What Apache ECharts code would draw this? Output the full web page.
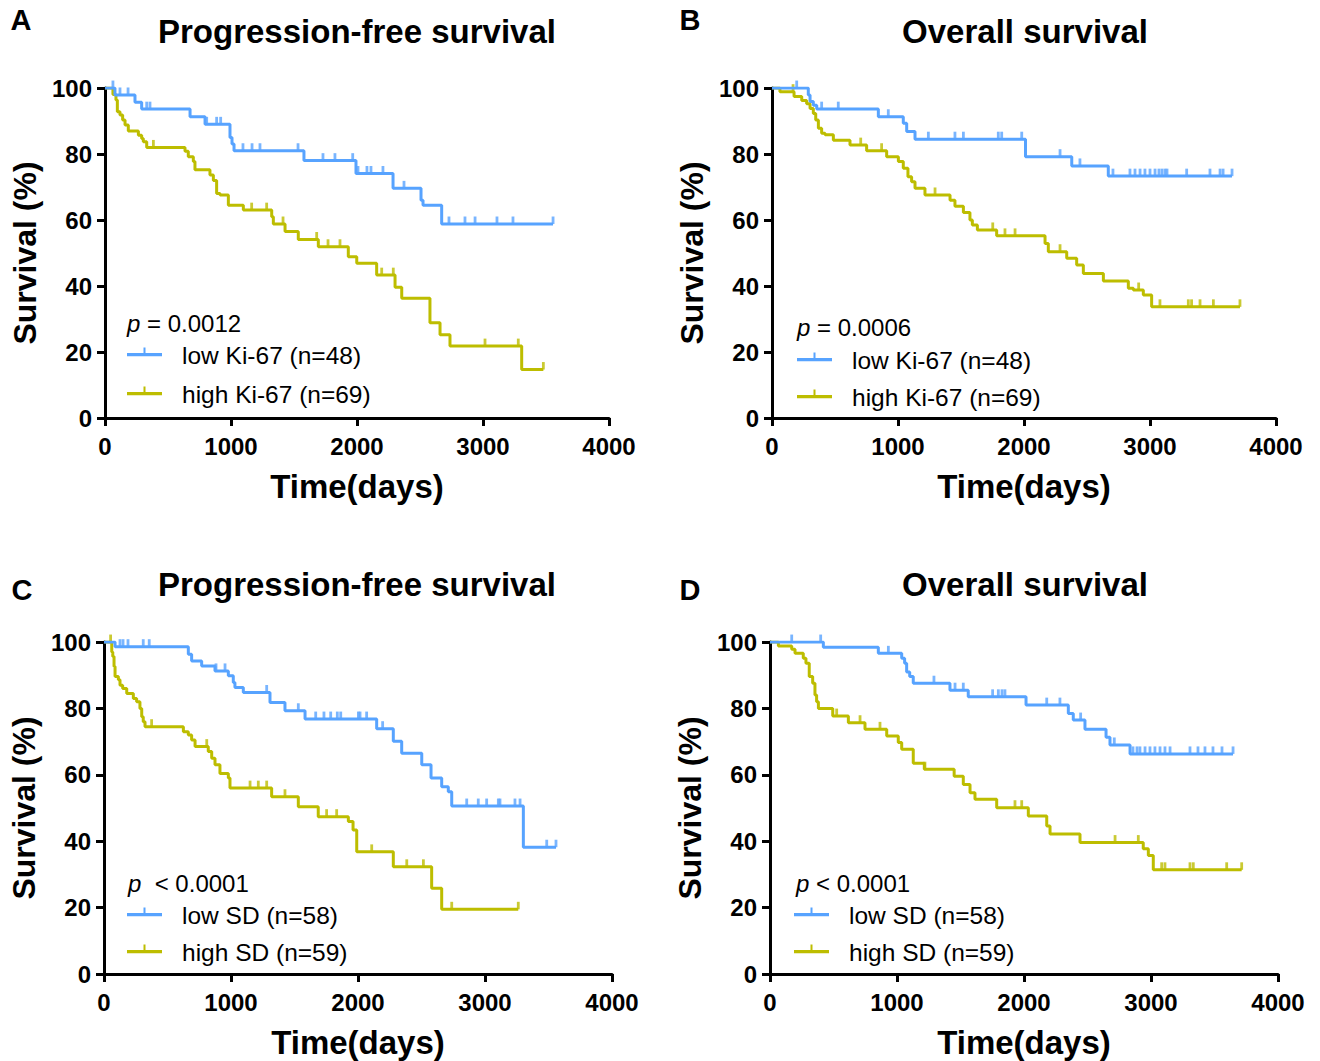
<!DOCTYPE html>
<html><head><meta charset="utf-8">
<style>html,body{margin:0;padding:0;background:#fff}#c{width:1320px;height:1061px}</style>
<script src="https://cdn.jsdelivr.net/npm/echarts@6/dist/echarts.min.js"></script>
</head><body><div id="c"></div>
<script>
// ---------- DATA ----------
// Panel A: Progression-free survival by Ki-67
const aLowT  = [79, 238, 291, 675, 794, 992, 1008, 1024, 1579, 1992, 2286, 2508, 2524, 2672];
const aLowS  = [97.9, 95.7, 93.6, 91.3, 89.0, 85.0, 83.0, 81.0, 78.0, 74.1, 69.6, 66.0, 64.5, 58.8];
const aLowC  = [63, 119, 183, 331, 357, 807, 886, 918, 1095, 1167, 1230, 1532, 1730, 1825, 1966, 2008, 2079, 2111, 2206, 2373, 2730, 2857, 2937, 3111, 3238, 3556];
const aHighT = [63, 87, 98, 119, 140, 159, 185, 265, 291, 304, 331, 635, 661, 701, 714, 833, 860, 886, 913, 979, 1098, 1323, 1336, 1429, 1534, 1693, 1931, 1998, 2156, 2302, 2355, 2579, 2659, 2738, 3307];
const aHighS = [98, 96.4, 92.8, 91.8, 90.3, 88.8, 87, 85.7, 84.7, 83.7, 82, 80.8, 79.2, 77.7, 75.2, 73.6, 72, 68, 67.6, 64.5, 63, 61, 58.8, 56.5, 54.1, 51.9, 48.9, 46.9, 43.3, 39.6, 36.3, 28.9, 25.2, 21.8, 14.7];
const aHighC = [384, 1164, 1283, 1413, 1680, 1770, 1865, 2196, 2288, 3016, 3280, 3479];
// Panel B: Overall survival by Ki-67
const bLowT  = [288, 302, 328, 355, 844, 1042, 1069, 1135, 2012, 2379, 2669];
const bLowS  = [97.9, 95.9, 94.8, 93.6, 91.3, 89.3, 86.8, 84.5, 79.2, 76.4, 73.3];
const bLowC  = [196, 394, 526, 923, 1241, 1452, 1519, 1796, 1823, 1982, 2286, 2444, 2706, 2841, 2881, 2921, 2960, 3000, 3040, 3071, 3095, 3119, 3135, 3291, 3476, 3556, 3580, 3651];
const bHighT = [63, 175, 236, 275, 302, 328, 347, 368, 394, 421, 487, 619, 751, 910, 1003, 1042, 1079, 1108, 1135, 1214, 1413, 1452, 1519, 1571, 1590, 1630, 1783, 2167, 2193, 2339, 2418, 2471, 2630, 2828, 2868, 2947, 3013];
const bHighS = [98.9, 97.4, 96.2, 95.2, 93.8, 92.3, 90.3, 87.8, 86.3, 85.8, 84.2, 82.7, 81, 79.2, 77.7, 75.7, 73.1, 71.6, 69.6, 67.6, 66, 64.2, 62.3, 60, 58.5, 57, 55.2, 52.9, 50.4, 48.4, 46.4, 43.8, 41.5, 39.3, 38.8, 37.3, 33.7];
const bHighC = [167, 704, 870, 1294, 1752, 1849, 1929, 2286, 2910, 3079, 3304, 3330, 3397, 3503, 3714];
// Panel C: Progression-free survival by SD
const cLowT  = [87, 664, 690, 769, 874, 979, 1018, 1031, 1097, 1307, 1425, 1583, 2147, 2278, 2344, 2502, 2575, 2659, 2711, 2738, 3302];
const cLowS  = [98.6, 96.3, 94.3, 92.8, 91.3, 89.8, 87.8, 86.3, 84.8, 81.8, 79.3, 76.8, 73.9, 70.1, 66.5, 63, 59, 56.4, 54.9, 50.6, 38.2];
const cLowC  = [126, 150, 189, 309, 356, 882, 953, 1281, 1530, 1667, 1732, 1785, 1837, 1864, 2003, 2016, 2068, 2194, 2856, 2947, 3013, 3105, 3118, 3236, 3276, 3486, 3559];
const cHighT = [61, 69, 79, 87, 113, 126, 147, 179, 231, 257, 283, 297, 309, 323, 625, 664, 690, 717, 821, 848, 874, 913, 979, 992, 1320, 1530, 1687, 1924, 1961, 1990, 2278, 2580, 2659];
const cHighS = [97, 95.6, 92.6, 89.6, 88.6, 87, 86, 84.5, 83, 82, 80, 77.5, 76, 74.5, 73, 72, 70.5, 68.5, 67, 65, 63, 60.4, 59, 56, 53.4, 50.4, 47.4, 45.9, 43.4, 36.8, 32.3, 25.8, 19.5];
const cHighC = [52, 375, 809, 1150, 1215, 1281, 1425, 1753, 1832, 2108, 2384, 2515, 2738, 3262];
// Panel D: Overall survival by SD
const dLowT  = [420, 853, 1037, 1060, 1076, 1100, 1128, 1417, 1561, 2016, 2349, 2388, 2480, 2646, 2677, 2835];
const dLowS  = [98.4, 96.6, 95.1, 93.6, 91, 89.6, 87.6, 85.5, 83.5, 81, 78.5, 76.5, 73.7, 71.3, 69, 66.3];
const dLowC  = [171, 399, 932, 1291, 1457, 1522, 1753, 1798, 1827, 1850, 2179, 2283, 2446, 2711, 2858, 2890, 2913, 2953, 2992, 3031, 3071, 3110, 3150, 3307, 3370, 3425, 3488, 3559, 3646];
const dHighT = [66, 171, 197, 262, 283, 309, 336, 354, 367, 381, 494, 617, 748, 919, 1010, 1037, 1128, 1215, 1450, 1522, 1575, 1614, 1785, 2034, 2179, 2205, 2441, 2939, 2979, 3018];
const dHighS = [98.8, 97.8, 96.6, 95.1, 93.6, 89.6, 87.6, 84, 82, 80, 77.7, 75.7, 73.7, 71.7, 69.7, 67.7, 63.5, 61.7, 59.6, 57.1, 54.6, 52.6, 50.1, 47.6, 44.6, 42.2, 39.6, 37.7, 35.7, 31.4];
const dHighC = [525, 709, 866, 1220, 1929, 1982, 2717, 2900, 3084, 3110, 3307, 3333, 3596, 3714];

const panelLetters = ['A', 'B', 'C', 'D'];
const panelTitles  = ['Progression-free survival', 'Overall survival', 'Progression-free survival', 'Overall survival'];
const pValueTexts  = [' = 0.0012', ' = 0.0006', '  < 0.0001', ' < 0.0001'];
const groupNames   = [['low Ki-67 (n=48)', 'high Ki-67 (n=69)'], ['low Ki-67 (n=48)', 'high Ki-67 (n=69)'],
                      ['low SD (n=58)', 'high SD (n=59)'], ['low SD (n=58)', 'high SD (n=59)']];
const xAxisName = 'Time(days)';
const yAxisName = 'Survival (%)';
const xMin = 0, xMax = 4000, xStep = 1000;
const yMin = 0, yMax = 100, yStep = 20;

// ---------- LAYOUT / STYLE ----------
const F = 'Arial, "Liberation Sans", sans-serif';
const COLORS = ['#57A3FF', '#BDBD00'];
const grids = [
  {left: 105, top: 88, width: 504, height: 330},
  {left: 772, top: 88, width: 504, height: 330},
  {left: 104, top: 642, width: 508, height: 332},
  {left: 770, top: 642, width: 508, height: 332}
];
const legendPos = [{left: 127, top: 343}, {left: 797, top: 348}, {left: 127, top: 903}, {left: 794, top: 903}];
const legendGap = [14, 12, 12, 12];
const pPos = [[127, 323], [797, 327], [128, 883], [796, 883]];
const titlePos = [[357, 31], [1025, 31], [357, 584], [1025, 584]];
const letterPos = [[21, 20], [690, 20], [22, 590], [690, 590]];

const panelData = [
  [[aLowT, aLowS, aLowC], [aHighT, aHighS, aHighC]],
  [[bLowT, bLowS, bLowC], [bHighT, bHighS, bHighC]],
  [[cLowT, cLowS, cLowC], [cHighT, cHighS, cHighC]],
  [[dLowT, dLowS, dLowC], [dHighT, dHighS, dHighC]]
];

function survAt(T, S, t) {
  let s = 100;
  for (let i = 0; i < T.length; i++) { if (T[i] <= t) s = S[i]; else break; }
  return s;
}
function curve(T, S, C) {
  const d = [[0, 100]];
  T.forEach((t, i) => d.push([t, S[i]]));
  const end = Math.max(T[T.length - 1], C[C.length - 1]);
  d.push([end, S[S.length - 1]]);
  return d;
}

const axisCommon = {
  axisLine: {show: true, lineStyle: {color: '#000', width: 3}},
  axisTick: {show: true, length: 8, lineStyle: {color: '#000', width: 3}},
  splitLine: {show: false},
  axisLabel: {color: '#000', fontFamily: F, fontWeight: 'bold', fontSize: 24, formatter: v => String(v)},
  nameTextStyle: {color: '#000', fontFamily: F, fontWeight: 'bold', fontSize: 32}
};

const xAxes = [], yAxes = [], series = [], legends = [], graphics = [];
for (let p = 0; p < 4; p++) {
  xAxes.push(Object.assign({}, axisCommon, {
    type: 'value', gridIndex: p, min: xMin, max: xMax, interval: xStep,
    name: xAxisName, nameLocation: 'middle', nameGap: 52,
    nameTextStyle: Object.assign({}, axisCommon.nameTextStyle, {fontSize: 33}),
    axisLabel: Object.assign({}, axisCommon.axisLabel, {margin: 16})
  }));
  yAxes.push(Object.assign({}, axisCommon, {
    type: 'value', gridIndex: p, min: yMin, max: yMax, interval: yStep,
    name: yAxisName, nameLocation: 'middle', nameGap: 64, nameRotate: 90,
    axisLabel: Object.assign({}, axisCommon.axisLabel, {margin: 13})
  }));
  for (let g = 0; g < 2; g++) {
    const [T, S, C] = panelData[p][g];
    series.push({
      type: 'line', name: groupNames[p][g], xAxisIndex: p, yAxisIndex: p,
      data: curve(T, S, C), step: 'end', showSymbol: false, symbol: 'none',
      lineStyle: {color: COLORS[g], width: 3}, itemStyle: {color: COLORS[g], borderWidth: 0},
      z: 3 - g
    });
    series.push({
      type: 'scatter', name: groupNames[p][g] + ' censored', xAxisIndex: p, yAxisIndex: p,
      data: C.map(t => [t, survAt(T, S, t)]),
      symbol: 'rect', symbolSize: [2.8, 7.5], symbolOffset: [0, -3.7],
      itemStyle: {color: COLORS[g]}, silent: true, z: 3 - g
    });
  }
  legends.push({
    orient: 'vertical', left: legendPos[p].left, top: legendPos[p].top, padding: 0,
    data: groupNames[p].slice(), itemWidth: 35, itemHeight: 16, itemGap: legendGap[p],
    icon: 'path://M0,6.5H35V9.5H0Z M16.5,1.5H18.5V8H16.5Z M17,15.95L17.02,16L17,16Z',
    symbolKeepAspect: false,
    itemStyle: {borderWidth: 0}, selectedMode: false,
    textStyle: {color: '#000', fontFamily: F, fontSize: 24.5, lineHeight: 24, padding: [0, 0, 0, 15]}
  });
  graphics.push({
    type: 'text', x: pPos[p][0], y: pPos[p][1],
    style: {text: '{i|p}' + pValueTexts[p], fontFamily: F, fontSize: 24, fill: '#000',
      verticalAlign: 'middle', align: 'left',
      rich: {i: {fontStyle: 'italic', fontFamily: F, fontSize: 24, fill: '#000'}}}
  });
  graphics.push({
    type: 'text', x: titlePos[p][0], y: titlePos[p][1],
    style: {text: panelTitles[p], font: 'bold 33px ' + F, fill: '#000', align: 'center', verticalAlign: 'middle'}
  });
  graphics.push({
    type: 'text', x: letterPos[p][0], y: letterPos[p][1],
    style: {text: panelLetters[p], font: 'bold 29px ' + F, fill: '#000', align: 'center', verticalAlign: 'middle'}
  });
}

const chart = echarts.init(document.getElementById('c'), null, {renderer: 'svg'});
chart.setOption({
  animation: false,
  backgroundColor: '#fff',
  grid: grids,
  xAxis: xAxes,
  yAxis: yAxes,
  legend: legends,
  series: series,
  graphic: graphics
});
</script>
</body></html>
